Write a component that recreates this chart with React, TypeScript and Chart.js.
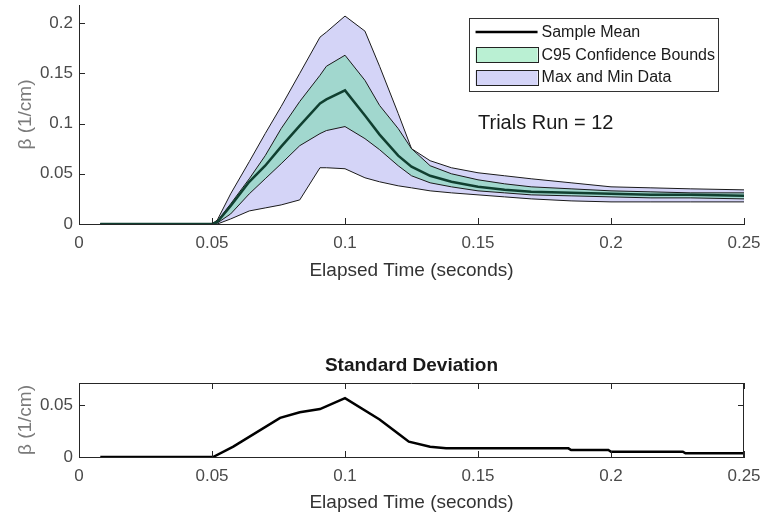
import React, { useEffect, useRef } from "react";
import { Chart, registerables } from "chart.js";

Chart.register(...registerables);

// ---------- data ----------
const timeS = [0.008, 0.05, 0.052, 0.057, 0.064, 0.07, 0.076, 0.083, 0.0906, 0.093, 0.1, 0.1075, 0.113, 0.12, 0.125, 0.132, 0.14, 0.15, 0.16, 0.17, 0.185, 0.2, 0.215, 0.23, 0.25];
const sampleMean = [0, 0, 0.002, 0.018, 0.042, 0.058, 0.077, 0.098, 0.12, 0.124, 0.133, 0.108, 0.089, 0.068, 0.057, 0.048, 0.042, 0.037, 0.034, 0.032, 0.031, 0.03, 0.029, 0.029, 0.028];
const c95Upper = [0, 0, 0.003, 0.02, 0.045, 0.068, 0.095, 0.122, 0.148, 0.157, 0.168, 0.143, 0.118, 0.095, 0.075, 0.058, 0.05, 0.044, 0.04, 0.037, 0.035, 0.033, 0.032, 0.031, 0.031];
const c95Lower = [0, 0, 0.001, 0.01, 0.03, 0.045, 0.06, 0.078, 0.09, 0.093, 0.097, 0.085, 0.074, 0.058, 0.048, 0.041, 0.037, 0.033, 0.031, 0.029, 0.028, 0.027, 0.026, 0.026, 0.025];
const maxData = [0, 0, 0.004, 0.03, 0.062, 0.09, 0.117, 0.15, 0.186, 0.191, 0.207, 0.192, 0.157, 0.11, 0.075, 0.063, 0.056, 0.051, 0.048, 0.045, 0.041, 0.037, 0.036, 0.035, 0.034];
const minData = [0, 0, 0, 0.005, 0.013, 0.016, 0.019, 0.024, 0.056, 0.056, 0.055, 0.046, 0.042, 0.038, 0.036, 0.033, 0.031, 0.029, 0.027, 0.025, 0.023, 0.022, 0.022, 0.022, 0.022];

const stdTime = [0.008, 0.0504, 0.058, 0.0756, 0.083, 0.0906, 0.1, 0.113, 0.1207, 0.124, 0.132, 0.138, 0.184, 0.185, 0.199, 0.2, 0.227, 0.228, 0.25];
const stdDev = [0, 0, 0.01, 0.0375, 0.043, 0.046, 0.0565, 0.036, 0.021, 0.0147, 0.0099, 0.0083, 0.0083, 0.0067, 0.0067, 0.0051, 0.0051, 0.0035, 0.0035];

const xTicks = [0, 0.05, 0.1, 0.15, 0.2, 0.25];
const yTicksTop = [0, 0.05, 0.1, 0.15, 0.2];
const yTicksBottom = [0, 0.05];

const legendLabels = ["Sample Mean", "C95 Confidence Bounds", "Max and Min Data"];
const xLabel = "Elapsed Time (seconds)";
const yLabel = "β (1/cm)";
const stdTitle = "Standard Deviation";
const trialsText = "Trials Run = 12";
const trialsAtX = 0.15;
const trialsAtY = 0.1;

// ---------- styles ----------
const FONT = "'Liberation Sans', Arial, Helvetica, sans-serif";
const AXIS = "#262626";
const MEAN_COLOR = "#103f30";
const GREEN_FILL = "rgba(90, 220, 150, 0.42)";
const LAV_FILL = "rgb(212, 212, 247)";

const pts = (xs: number[], ys: number[]) => xs.map((x, i) => ({ x, y: ys[i] }));

function drawInwardTicks(chart: any, box: boolean) {
  const { ctx, chartArea: a, scales } = chart;
  const xs = scales.x;
  const ys = scales.y;
  const L = 6;
  ctx.save();
  ctx.strokeStyle = AXIS;
  ctx.lineWidth = 1;
  ctx.beginPath();
  xs.ticks.forEach((t: any) => {
    const px = Math.round(xs.getPixelForValue(t.value)) + 0.5;
    ctx.moveTo(px, a.bottom);
    ctx.lineTo(px, a.bottom - L);
    if (box) {
      ctx.moveTo(px, a.top);
      ctx.lineTo(px, a.top + L);
    }
  });
  ys.ticks.forEach((t: any) => {
    const py = Math.round(ys.getPixelForValue(t.value)) + 0.5;
    ctx.moveTo(a.left, py);
    ctx.lineTo(a.left + L, py);
    if (box) {
      ctx.moveTo(a.right, py);
      ctx.lineTo(a.right - L, py);
    }
  });
  if (box) {
    ctx.moveTo(a.left, Math.round(a.top) + 0.5);
    ctx.lineTo(a.right, Math.round(a.top) + 0.5);
    ctx.moveTo(Math.round(a.right) - 0.5, a.top);
    ctx.lineTo(Math.round(a.right) - 0.5, a.bottom);
  }
  ctx.stroke();
  ctx.restore();
}

const topDecor = {
  id: "topDecor",
  afterDatasetsDraw(chart: any) {
    const { ctx, chartArea: a, scales } = chart;
    drawInwardTicks(chart, false);

    // annotation text
    ctx.save();
    ctx.font = `20px ${FONT}`;
    ctx.fillStyle = "#1a1a1a";
    ctx.textAlign = "left";
    ctx.textBaseline = "middle";
    ctx.fillText(trialsText, scales.x.getPixelForValue(trialsAtX), scales.y.getPixelForValue(trialsAtY));
    ctx.restore();

    // legend
    ctx.save();
    ctx.font = `16px ${FONT}`;
    const textW = Math.max(...legendLabels.map((l) => ctx.measureText(l).width));
    const pad = 7;
    const sw = 62;
    const gap = 4;
    const rowH = 22.5;
    const w = pad + sw + gap + textW + 3;
    const h = 73;
    const right = a.right - 26;
    const top = a.top + 13;
    const left = right - w;
    ctx.fillStyle = "#ffffff";
    ctx.fillRect(left, top, w, h);
    ctx.strokeStyle = "#333";
    ctx.lineWidth = 1;
    ctx.strokeRect(Math.round(left) + 0.5, Math.round(top) + 0.5, Math.round(w), Math.round(h));
    const rowY = (i: number) => top + 14 + i * rowH;
    ctx.strokeStyle = "#000";
    ctx.lineWidth = 2.5;
    ctx.beginPath();
    ctx.moveTo(left + pad, rowY(0));
    ctx.lineTo(left + pad + sw, rowY(0));
    ctx.stroke();
    const patch = (i: number, fill: string) => {
      const y0 = Math.round(rowY(i) - 7.5) + 0.5;
      ctx.fillStyle = fill;
      ctx.fillRect(left + pad, y0, sw, 15);
      ctx.strokeStyle = "#222";
      ctx.lineWidth = 1;
      ctx.strokeRect(Math.round(left + pad) + 0.5, y0, sw, 15);
    };
    patch(1, GREEN_FILL);
    patch(2, LAV_FILL);
    ctx.fillStyle = "#1a1a1a";
    ctx.textAlign = "left";
    ctx.textBaseline = "middle";
    legendLabels.forEach((l, i) => ctx.fillText(l, left + pad + sw + gap, rowY(i) + 1));
    ctx.restore();
  },
};

const bottomDecor = {
  id: "bottomDecor",
  afterDatasetsDraw(chart: any) {
    const { ctx, chartArea: a } = chart;
    drawInwardTicks(chart, true);
    ctx.save();
    ctx.font = `bold 19px ${FONT}`;
    ctx.fillStyle = "#1a1a1a";
    ctx.textAlign = "center";
    ctx.textBaseline = "middle";
    ctx.fillText(stdTitle, (a.left + a.right) / 2, a.top - 17);
    ctx.restore();
  },
};

const tickFont = { family: FONT, size: 17 };
const labelFont = { family: FONT, size: 19 };

const zeroPad = (s: any) => {
  s.paddingLeft = 0;
  s.paddingRight = 0;
  s.paddingTop = 0;
  s.paddingBottom = 0;
};

function makeScales(yTicks: number[], yMax: number, xHeight: number, xTitleBottom: number) {
  return {
    x: {
      type: "linear" as const,
      min: 0,
      max: 0.25,
      afterBuildTicks: (s: any) => {
        s.ticks = xTicks.map((v) => ({ value: v }));
      },
      afterFit: (s: any) => {
        s.height = xHeight;
        zeroPad(s);
      },
      grid: { display: false, drawTicks: false },
      border: { display: true, color: AXIS, width: 1 },
      ticks: {
        font: tickFont,
        color: "#4a4a4a",
        padding: 9,
        maxRotation: 0,
        autoSkip: false,
        callback: (v: any) => String(v),
      },
      title: {
        display: true,
        text: xLabel,
        font: labelFont,
        color: "#333",
        padding: { top: 0, bottom: xTitleBottom },
      },
    },
    y: {
      type: "linear" as const,
      min: 0,
      max: yMax,
      afterBuildTicks: (s: any) => {
        s.ticks = yTicks.map((v) => ({ value: v }));
      },
      afterFit: (s: any) => {
        s.width = 79;
        zeroPad(s);
      },
      grid: { display: false, drawTicks: false },
      border: { display: true, color: AXIS, width: 1 },
      ticks: {
        font: tickFont,
        color: "#4a4a4a",
        padding: 6,
        autoSkip: false,
        callback: (v: any) => String(v),
      },
      title: {
        display: true,
        text: yLabel,
        font: labelFont,
        color: "#7a7a7a",
        padding: { top: 14, bottom: 0 },
      },
    },
  };
}

export default function App() {
  const topRef = useRef<HTMLCanvasElement>(null);
  const botRef = useRef<HTMLCanvasElement>(null);

  useEffect(() => {
    const topChart = new Chart(topRef.current as HTMLCanvasElement, {
      type: "line",
      data: {
        datasets: [
          {
            label: "Sample Mean",
            data: pts(timeS, sampleMean),
            borderColor: MEAN_COLOR,
            borderWidth: 2.5,
            pointRadius: 0,
            fill: false,
            order: 1,
          },
          {
            label: "C95 Upper",
            data: pts(timeS, c95Upper),
            borderColor: "#1a1a1a",
            borderWidth: 1,
            pointRadius: 0,
            fill: { target: 2, above: GREEN_FILL, below: GREEN_FILL },
            backgroundColor: GREEN_FILL,
            order: 3,
          },
          {
            label: "C95 Lower",
            data: pts(timeS, c95Lower),
            borderColor: "#1a1a1a",
            borderWidth: 1,
            pointRadius: 0,
            fill: false,
            order: 3,
          },
          {
            label: "Max Data",
            data: pts(timeS, maxData),
            borderColor: "#1a1a1a",
            borderWidth: 1,
            pointRadius: 0,
            fill: { target: 4, above: LAV_FILL, below: LAV_FILL },
            backgroundColor: LAV_FILL,
            order: 5,
          },
          {
            label: "Min Data",
            data: pts(timeS, minData),
            borderColor: "#1a1a1a",
            borderWidth: 1,
            pointRadius: 0,
            fill: false,
            order: 5,
          },
        ],
      },
      options: {
        responsive: false,
        animation: false,
        devicePixelRatio: 1,
        layout: { padding: { top: 5, right: 21, left: 0, bottom: 0 } },
        elements: { line: { tension: 0 } },
        plugins: {
          legend: { display: false },
          tooltip: { enabled: false },
          title: { display: false },
          filler: { drawTime: "beforeDatasetsDraw" },
        },
        scales: makeScales(yTicksTop, 0.218, 66, 8),
      } as any,
      plugins: [topDecor],
    });

    const botChart = new Chart(botRef.current as HTMLCanvasElement, {
      type: "line",
      data: {
        datasets: [
          {
            label: "Standard Deviation",
            data: pts(stdTime, stdDev),
            borderColor: "#000",
            borderWidth: 2.5,
            pointRadius: 0,
            fill: false,
          },
        ],
      },
      options: {
        responsive: false,
        animation: false,
        devicePixelRatio: 1,
        layout: { padding: { top: 38, right: 21, left: 0, bottom: 0 } },
        elements: { line: { tension: 0 } },
        plugins: {
          legend: { display: false },
          tooltip: { enabled: false },
          title: { display: false },
        },
        scales: makeScales(yTicksBottom, 0.071, 62, 5),
      } as any,
      plugins: [bottomDecor],
    });

    return () => {
      topChart.destroy();
      botChart.destroy();
    };
  }, []);

  return (
    <div style={{ position: "absolute", left: 0, top: 0, width: 765, height: 519, background: "#ffffff" }}>
      <div style={{ position: "absolute", left: 0, top: 0 }}>
        <canvas ref={topRef} width={765} height={290} />
      </div>
      <div style={{ position: "absolute", left: 0, top: 345 }}>
        <canvas ref={botRef} width={765} height={174} />
      </div>
    </div>
  );
}
